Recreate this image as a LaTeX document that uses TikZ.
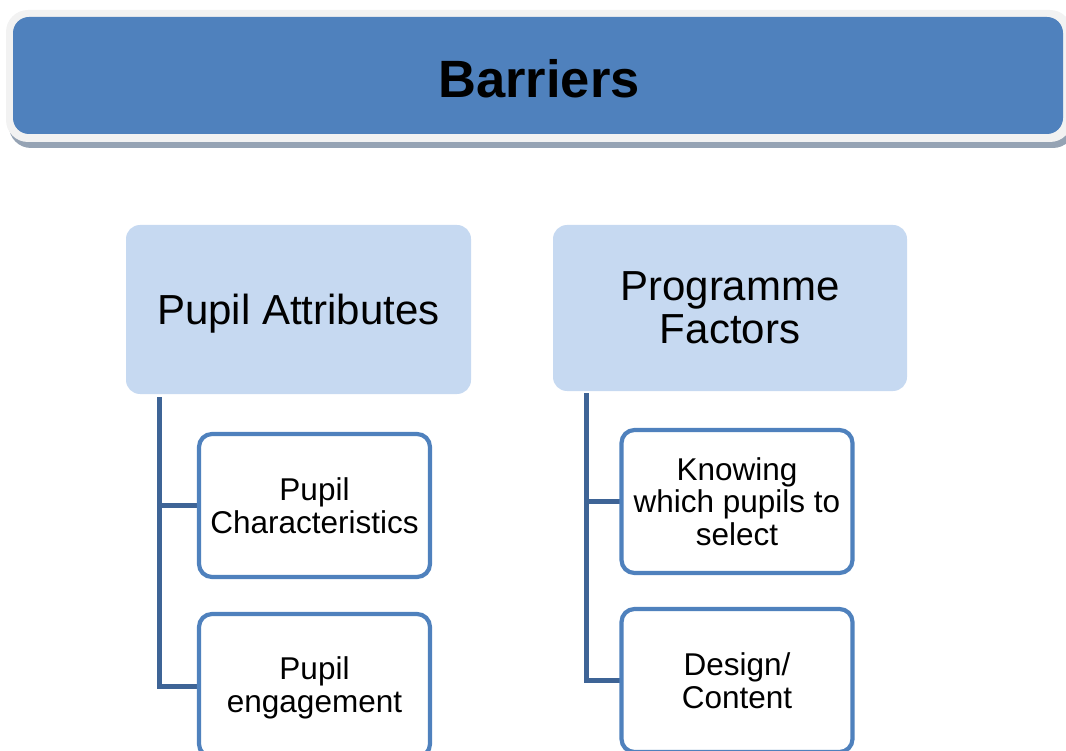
\documentclass[tikz,border=0pt]{standalone}
\usepackage{fontspec}
\setmainfont{Liberation Sans}
\begin{document}
\definecolor{bannerblue}{RGB}{79,129,189}
\definecolor{bannerrim}{RGB}{242,242,242}
\definecolor{bannershadow}{RGB}{149,163,180}
\definecolor{groupfill}{RGB}{198,217,241}
\definecolor{itemline}{RGB}{79,129,189}
\definecolor{linkline}{RGB}{62,100,150}
\begin{tikzpicture}[x=1pt,y=-1pt,
  groupbox/.style={rectangle,rounded corners=14pt,fill=groupfill,inner sep=0pt,
    align=center,font=\fontsize{42}{43}\selectfont},
  itembox/.style={rectangle,rounded corners=13pt,draw=itemline,line width=4.2pt,
    fill=white,inner sep=0pt,minimum width=231pt,minimum height=143pt,
    align=center,font=\fontsize{31.5}{32.5}\selectfont},
  link/.style={draw=linkline,line width=5pt,line cap=butt,line join=miter}]
\useasboundingbox (0,0) rectangle (1066,751);

% title banner: shadow, light rim, blue face
\fill[bannershadow,rounded corners=22pt] (9,16) rectangle (1075,148);
\fill[bannerrim,rounded corners=22pt] (6,10) rectangle (1072,142);
\node[rectangle,rounded corners=16pt,fill=bannerblue,minimum width=1050pt,
  minimum height=117pt,inner sep=0pt] (banner) at (538,75.5) {};
\node[anchor=base,font=\fontsize{52.5}{54}\selectfont\bfseries] (title)
  at (539,98) {Barriers};

% group headers
\node[groupbox,minimum width=345pt,minimum height=169pt,
  label={[yshift=-4pt,font=\fontsize{42}{43}\selectfont]center:Pupil Attributes}]
  (pa) at (298.5,309.5) {};
\node[groupbox,minimum width=354pt,minimum height=166pt] (pf) at (730,308)
  {Programme\\Factors};

% item positions
\coordinate (pcpos) at (314.5,505.5);
\coordinate (pepos) at (314.5,685.5);
\coordinate (kwpos) at (737,501.5);
\coordinate (dcpos) at (737,680.5);
\coordinate (pastem) at (159,397);
\coordinate (pfstem) at (586,393);

% connectors (drawn first so the item borders sit on top)
\path[link] (pastem) |- (314.5,686.5) coordinate (pecorner);
\path[link] (pastem |- pcpos) -- (pcpos);
\path[link] (pfstem) |- (dcpos);
\path[link] (pfstem |- kwpos) -- (kwpos);

% items
\node[itembox] (pc) at (pcpos) {Pupil\\Characteristics};
\node[itembox,label={[yshift=-2.5pt,align=center,font=\fontsize{31.5}{32.5}\selectfont]center:Pupil\\engagement}]
  (pe) at (pepos) {};
\node[itembox] (kw) at (kwpos) {Knowing\\which pupils to\\select};
\node[itembox] (dc) at (dcpos) {Design/\\Content};
\end{tikzpicture}
\end{document}
